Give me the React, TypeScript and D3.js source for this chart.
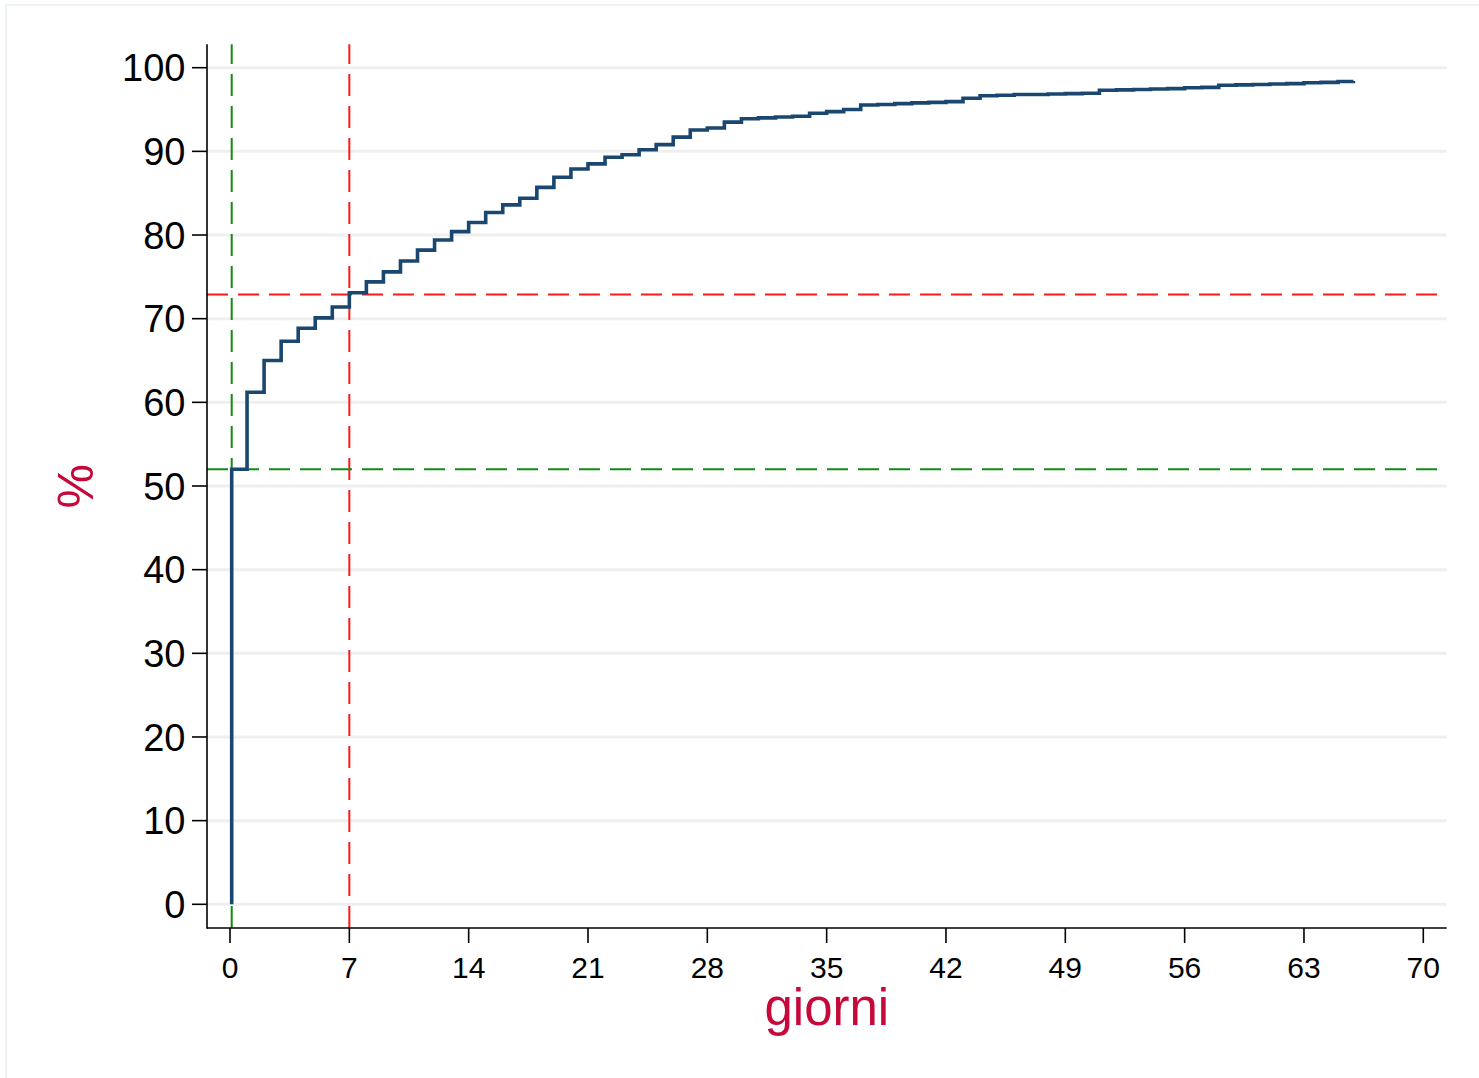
import React from 'react';
import * as d3 from 'd3';

// cumulative % by day (step after)
const days = [0.1, 1, 2, 3, 4, 5, 6, 7, 8, 9, 10, 11, 12, 13, 14, 15, 16, 17, 18, 19, 20,
  21, 22, 23, 24, 25, 26, 27, 28, 29, 30, 31, 32, 33, 34, 35, 36, 37, 38, 39, 40,
  41, 42, 43, 44, 45, 46, 47, 48, 49, 50, 51, 52, 53, 54, 55, 56, 57, 58, 59, 60,
  61, 62, 63, 64, 65, 65.9];
const pct = [52.0, 61.2, 65.0, 67.3, 68.85, 70.1, 71.4, 73.1, 74.4, 75.6, 76.9, 78.2, 79.4, 80.4, 81.5, 82.7, 83.6, 84.4, 85.7, 86.9, 87.9,
  88.5, 89.3, 89.6, 90.2, 90.8, 91.7, 92.55, 92.8, 93.5, 93.9, 94.0, 94.1, 94.2, 94.55, 94.75, 95.0, 95.55, 95.6, 95.7, 95.8,
  95.85, 95.95, 96.35, 96.65, 96.7, 96.8, 96.8, 96.85, 96.9, 96.95, 97.3, 97.35, 97.4, 97.45, 97.5, 97.6, 97.65, 97.9, 97.95, 98.0,
  98.05, 98.1, 98.2, 98.25, 98.35, 98.4];

const xTicks = [0, 7, 14, 21, 28, 35, 42, 49, 56, 63, 70];
const yTicks = [0, 10, 20, 30, 40, 50, 60, 70, 80, 90, 100];

// reference lines
const refGreen = { day: 0.1, pct: 52 };
const refRed = { day: 7, pct: 72.9 };

const font = '"Liberation Sans", Arial, Helvetica, sans-serif';

export default function App() {
  const W = 1479, H = 1078;
  const left = 207, right = 1446.7, top = 44.3, bottom = 928;

  const x = d3.scaleLinear().domain([0, 70]).range([230, 1423.3]);
  const y = d3.scaleLinear().domain([0, 100]).range([904.3, 67.7]);

  const pts: [number, number][] = [[days[0], 0], ...days.map((d, i) => [d, pct[i]] as [number, number])];
  const line = d3.line<[number, number]>()
    .x(d => x(d[0]))
    .y(d => y(d[1]))
    .curve(d3.curveStepAfter);

  const cranberry = '#c6093b';
  const green = '#138a13';
  const red = '#ff1a1a';

  return (
    <div style={{ position: 'fixed', left: 0, top: 0 }}>
      <svg width={W} height={H} style={{ display: 'block', background: '#fff' }}>
        <rect x={6} y={5} width={W + 20} height={H + 20} fill="none" stroke="#e8f0f0" strokeWidth={1.5} />

        {/* gridlines */}
        {yTicks.map(t => (
          <line key={'g' + t} x1={left} x2={right} y1={y(t)} y2={y(t)} stroke="#efefef" strokeWidth={3} />
        ))}

        {/* reference lines */}
        <line x1={x(refGreen.day)} x2={x(refGreen.day)} y1={bottom} y2={top}
          stroke={green} strokeWidth={2} strokeDasharray="22,10" />
        <line x1={x(refRed.day)} x2={x(refRed.day)} y1={bottom} y2={top}
          stroke={red} strokeWidth={2} strokeDasharray="22,10" />
        <line x1={left} x2={right} y1={y(refGreen.pct)} y2={y(refGreen.pct)}
          stroke={green} strokeWidth={2} strokeDasharray="21,10" />
        <line x1={left} x2={right} y1={y(refRed.pct)} y2={y(refRed.pct)}
          stroke={red} strokeWidth={2} strokeDasharray="21,10" />

        {/* curve */}
        <path d={line(pts) || ''} fill="none" stroke="#1a476f" strokeWidth={3.6} strokeLinejoin="miter" />

        {/* axes */}
        <line x1={left} x2={left} y1={top} y2={bottom + 0.8} stroke="#000" strokeWidth={1.6} />
        <line x1={left} x2={right} y1={bottom} y2={bottom} stroke="#000" strokeWidth={1.6} />
        {yTicks.map(t => (
          <g key={'y' + t}>
            <line x1={left - 15} x2={left} y1={y(t)} y2={y(t)} stroke="#000" strokeWidth={1.6} />
            <text x={185.5} y={y(t)} dy="0.36em" textAnchor="end" fontFamily={font} fontSize={38} fill="#000">{t}</text>
          </g>
        ))}
        {xTicks.map(t => (
          <g key={'x' + t}>
            <line x1={x(t)} x2={x(t)} y1={bottom} y2={bottom + 15} stroke="#000" strokeWidth={1.6} />
            <text x={x(t)} y={978} textAnchor="middle" fontFamily={font} fontSize={30} fill="#000">{t}</text>
          </g>
        ))}

        {/* titles */}
        <text x={(left + right) / 2} y={1025} textAnchor="middle" fontFamily={font} fontSize={51} fill={cranberry}>giorni</text>
        <text transform={`translate(93,${(top + bottom) / 2}) rotate(-90)`} textAnchor="middle"
          fontFamily={font} fontSize={50} fill={cranberry}>%</text>
      </svg>
    </div>
  );
}
